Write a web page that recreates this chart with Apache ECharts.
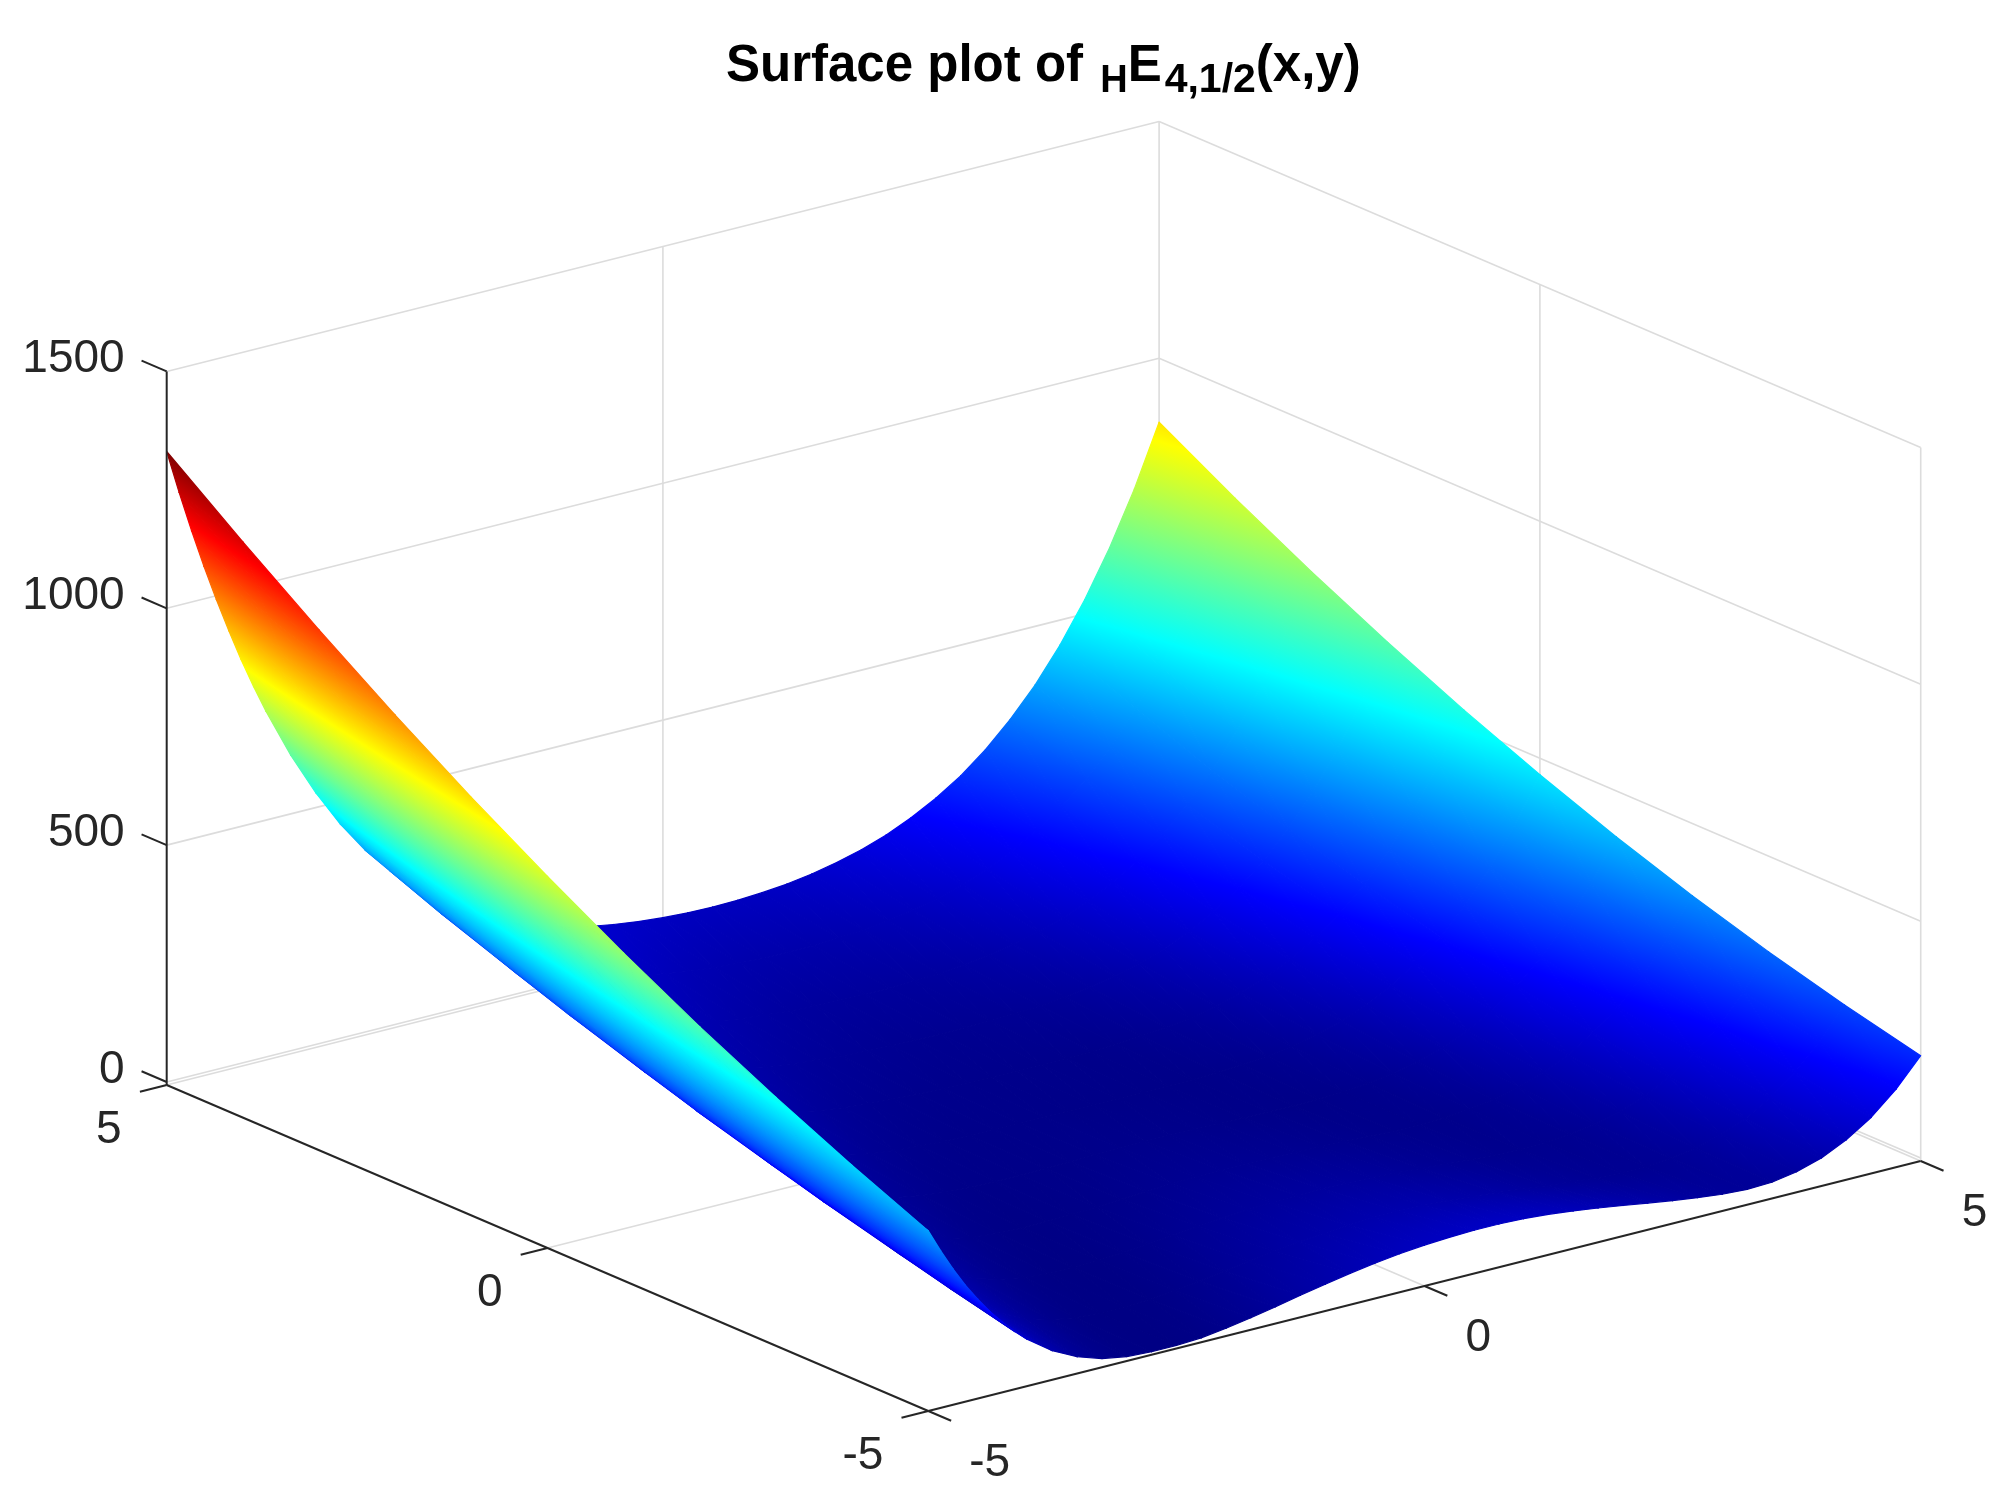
<!DOCTYPE html>
<html><head><meta charset="utf-8">
<style>html,body{margin:0;padding:0;background:#fff}#c{width:2008px;height:1499px}</style>
<script src="https://cdn.jsdelivr.net/npm/echarts@6/dist/echarts.min.js"></script>
</head><body><div id="c"></div>
<script>
// ---- tick labels
const xTicks = [-5, 0, 5];
const yTicks = [-5, 0, 5];
const zTicks = [0, 500, 1000, 1500];
const zFloor = -6.3;
// ---- sampled surface: one row of heights per y, columns follow xValues
const xValues = [-5,-4.875,-4.75,-4.625,-4.5,-4.375,-4.25,-4.125,-4,-3.75,-3.5,-3.25,-3,-2.75,-2.5,-2.25,-2,-1.75,-1.5,-1.25,-1,-0.75,-0.5,-0.25,0,0.25,0.5,0.75,1,1.25,1.5,1.75,2,2.25,2.5,2.75,3,3.25,3.5,3.75,4,4.25,4.5,4.75,5];
const yValues = [-5,-4,-3,-2,-1,0,1,2,3,4,5];
const zYm5 = [374,325,280,239,203,170,141,115,92,55,29,12,3,0,0,3,10,19,29,40,50,60,68,75,80,83,85,85,83,79,73,66,58,50,42,35,29,26,28,37,53,78,112,158,216];
const zYm4 = [443,389,340,295,255,218,185,155,129,85,52,28,12,3,0,0,2,7,14,22,30,37,44,49,53,56,56,55,52,48,43,37,31,26,21,19,19,23,31,46,67,98,138,189,254];
const zYm3 = [518,460,406,357,312,272,235,202,172,121,81,51,30,15,6,1,0,2,6,10,16,21,26,30,33,34,35,34,32,29,25,21,17,14,13,14,18,26,39,58,86,122,168,226,298];
const zYm2 = [598,536,478,425,376,332,291,254,220,163,117,81,53,33,19,9,4,2,3,4,7,10,13,16,18,19,19,18,17,15,13,11,9,9,10,15,22,35,53,77,110,152,204,269,347];
const zYm1 = [685,618,556,499,446,398,353,313,275,211,158,116,82,57,38,24,15,9,6,5,5,6,7,8,9,10,10,9,8,7,7,6,7,9,14,22,33,50,72,102,140,188,246,318,403];
const zY0  = [778,707,641,579,522,470,421,377,336,265,205,157,118,87,63,44,31,21,15,11,8,7,7,7,7,6,6,6,6,6,6,8,11,16,24,35,50,71,98,133,176,230,295,373,465];
const zY1  = [876,801,731,665,604,548,496,447,403,324,259,204,159,123,94,71,53,40,30,23,18,15,12,11,10,9,9,9,9,10,12,16,21,28,39,54,73,98,130,169,218,278,349,433,533];
const zY2  = [981,901,827,757,692,632,576,524,476,390,318,257,206,165,131,103,81,64,51,41,34,28,24,21,19,18,17,18,19,21,24,29,37,47,61,79,102,131,168,212,266,332,409,500,607];
const zY3  = [1092,1008,929,855,786,722,662,606,555,462,383,316,260,213,174,142,116,95,78,65,55,47,42,37,34,33,32,32,34,37,42,49,59,72,88,110,137,170,211,261,321,392,475,573,687];
const zY4  = [1209,1120,1037,959,886,818,754,695,639,540,454,381,319,267,223,186,156,131,111,95,83,73,65,60,56,53,53,53,56,60,66,75,87,102,122,147,178,215,261,316,381,458,548,652,773];
const zY5  = [1331,1238,1151,1069,992,920,852,789,730,624,532,452,384,327,278,236,202,174,150,132,116,104,95,88,83,80,79,80,83,88,96,107,121,139,162,190,224,266,317,376,447,530,626,737,865];
const zRows = [zYm5,zYm4,zYm3,zYm2,zYm1,zY0,zY1,zY2,zY3,zY4,zY5];

// ---- view of the box (orthographic, az -37.5)
const view = {cx:1043.7, cy:1120, ax:99.24, bx:-25, ay:-76.16, by:-32.6, cz:0.4737};
const proj = (x,y,z)=>[view.cx+view.ax*x+view.ay*y, view.cy+view.bx*x+view.by*y-view.cz*z];
const depth = (x,y,z)=>-71.7*x-93.4*y+0.1686*z;

// ---- jet colour scale
const cMax = 1331;
const jet = ['#000084','#0000ff','#00ffff','#ffff00','#ff0000','#800000'];
const jetAt = [0,0.125,0.375,0.625,0.875,1];
function jetColor(t){
  t=Math.max(0,Math.min(1,t));
  for(let i=1;i<jetAt.length;i++){
    if(t<=jetAt[i]){
      return echarts.color.lerp((t-jetAt[i-1])/(jetAt[i]-jetAt[i-1]),[jet[i-1],jet[i]]);
    }
  }
  return jet[5];
}

// ---- triangles sorted far to near
const tris=[];
for(let j=0;j<yValues.length-1;j++){
  for(let i=0;i<xValues.length-1;i++){
    const v=[[i,j],[i+1,j],[i+1,j+1],[i,j+1]];
    [[v[0],v[1],v[2]],[v[0],v[2],v[3]]].forEach(t=>{
      let d=0; t.forEach(p=>{d+=depth(xValues[p[0]],yValues[p[1]],zRows[p[1]][p[0]]);});
      tris.push({t,d:d/3});
    });
  }
}
tris.sort((a,b)=>a.d-b.d);
const triData=tris.map(o=>[o.t[0][0],o.t[0][1],o.t[1][0],o.t[1][1],o.t[2][0],o.t[2][1]]);

function renderTri(params,api){
  const pts=[],cs=[];
  for(let k=0;k<3;k++){
    const i=api.value(2*k),j=api.value(2*k+1),z=zRows[j][i];
    const u=proj(xValues[i],yValues[j],z);
    pts.push(api.coord(u)); cs.push(z/cMax);
  }
  const [p0,p1,p2]=pts,[c0,c1,c2]=cs;
  const area=(p1[0]-p0[0])*(p2[1]-p0[1])-(p2[0]-p0[0])*(p1[1]-p0[1]);
  let paint;
  const cmin=Math.min(c0,c1,c2),cmax=Math.max(c0,c1,c2);
  if(Math.abs(area)<0.5||cmax-cmin<1e-6){
    paint=jetColor((c0+c1+c2)/3);
  }else{
    const gx=((c1-c0)*(p2[1]-p0[1])-(c2-c0)*(p1[1]-p0[1]))/area;
    const gy=((c2-c0)*(p1[0]-p0[0])-(c1-c0)*(p2[0]-p0[0]))/area;
    const n=gx*gx+gy*gy;
    const s=pts[cs.indexOf(cmin)];
    const k=(cmax-cmin)/n;
    const stops=[{offset:0,color:jetColor(cmin)}];
    jetAt.forEach(a=>{ if(a>cmin&&a<cmax) stops.push({offset:(a-cmin)/(cmax-cmin),color:jetColor(a)}); });
    stops.push({offset:1,color:jetColor(cmax)});
    paint=new echarts.graphic.LinearGradient(s[0],s[1],s[0]+gx*k,s[1]+gy*k,stops,true);
  }
  return {type:'polygon',shape:{points:pts},silent:true,
    style:{fill:paint,stroke:paint,lineWidth:1.2,lineJoin:'round'}};
}

// ---- box lines, from the tick lists
const G='#dcdcdc', K='#262626';
const lightLines=[], darkLines=[];
zTicks.concat([zFloor]).forEach(z=>{
  lightLines.push([-5,5,z,5,5,z]);
  lightLines.push([5,5,z,5,-5,z]);
});
lightLines.push([5,5,zFloor,5,5,1500],[5,-5,zFloor,5,-5,1500],[0,5,zFloor,0,5,1500],[5,0,zFloor,5,0,1500]);
lightLines.push([0,-5,zFloor,0,5,zFloor],[-5,0,zFloor,5,0,zFloor]);
darkLines.push([-5,5,zFloor,-5,5,1500],[-5,5,zFloor,-5,-5,zFloor],[-5,-5,zFloor,5,-5,zFloor]);
zTicks.forEach(z=>darkLines.push([-5,5,z,-5,5.33,z]));
yTicks.forEach(y=>darkLines.push([-5,y,zFloor,-5.27,y,zFloor]));
xTicks.forEach(x=>darkLines.push([x,-5,zFloor,x,-5.3,zFloor]));

function renderLine(color,width){
  return (params,api)=>{
    const a=api.coord(proj(api.value(0),api.value(1),api.value(2)));
    const b=api.coord(proj(api.value(3),api.value(4),api.value(5)));
    return {type:'line',shape:{x1:a[0],y1:a[1],x2:b[0],y2:b[1]},silent:true,
      style:{stroke:color,lineWidth:width}};
  };
}
// ---- axis labels
const labelFont={fontFamily:'Liberation Sans',fontSize:46,fill:K};
const labelData=[];
zTicks.forEach(z=>labelData.push(['z',z]));
yTicks.forEach(y=>labelData.push(['y',y]));
xTicks.forEach(x=>labelData.push(['x',x]));
function renderLabel(params,api){
  const row=labelData[params.dataIndex], kind=row[0], val=row[1];
  let p,align,dx,dy;
  if(kind==='z'){p=proj(-5,5,val);align='right';dx=-42;dy=-12;}
  if(kind==='y'){p=proj(-5,val,zFloor);align='right';dx=-45;dy=45;}
  if(kind==='x'){p=proj(val,-5,zFloor);align='left';dx=41;dy=52;}
  const c=api.coord(p);
  return {type:'text',silent:true,x:c[0]+dx,y:c[1]+dy,
    style:Object.assign({text:String(val),textAlign:align,textVerticalAlign:'middle'},labelFont)};
}

const chart=echarts.init(document.getElementById('c'),null,{renderer:'canvas',width:2008,height:1499});
const T={fontFamily:'Liberation Sans',fontWeight:'bold',color:'#000'};
chart.setOption({
  animation:false,backgroundColor:'#fff',
  title:{
    left:726,top:41,padding:0,
    text:'{m|Surface plot of }{h|H}{m|E}{n|4,1/2}{m|(x,y)}',
    textStyle:{rich:{
      m:Object.assign({fontSize:51,verticalAlign:'top',lineHeight:60},T),
      h:Object.assign({fontSize:38,verticalAlign:'bottom',lineHeight:40,padding:[29,0,0,3]},T),
      n:Object.assign({fontSize:41,verticalAlign:'bottom',lineHeight:40,padding:[29,0,0,3]},T)
    }}
  },
  grid:{left:0,right:0,top:0,bottom:0},
  xAxis:{type:'value',min:0,max:2008,show:false},
  yAxis:{type:'value',min:0,max:1499,inverse:true,show:false},
  series:[
    {type:'custom',coordinateSystem:'cartesian2d',clip:false,progressive:0,data:lightLines,renderItem:renderLine(G,1.6),z:1},
    {type:'custom',coordinateSystem:'cartesian2d',clip:false,progressive:0,data:triData,renderItem:renderTri,z:2},
    {type:'custom',coordinateSystem:'cartesian2d',clip:false,progressive:0,data:darkLines,renderItem:renderLine(K,2),z:3},
    {type:'custom',coordinateSystem:'cartesian2d',clip:false,progressive:0,data:labelData.map((r,i)=>[i]),renderItem:renderLabel,z:4}
  ]
});
</script></body></html>
